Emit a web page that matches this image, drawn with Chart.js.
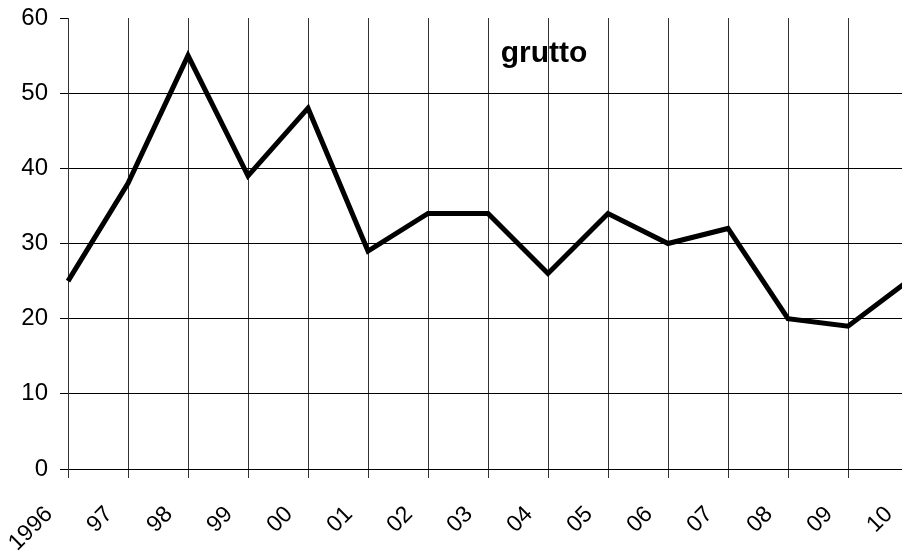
<!DOCTYPE html>
<html>
<head>
<meta charset="utf-8">
<script src="https://cdn.jsdelivr.net/npm/chart.js@4/dist/chart.umd.min.js"></script>
<style>
html,body{margin:0;padding:0;background:#fff;overflow:hidden;}
canvas{display:block;}
</style>
</head>
<body>
<canvas id="c" width="910" height="551"></canvas>
<script>
const categories = ['1996','97','98','99','00','01','02','03','04','05','06','07','08','09','10'];
const grutto = [25, 38, 55, 39, 48, 29, 34, 34, 26, 34, 30, 32, 20, 19, 25];
const yTicks = [0, 10, 20, 30, 40, 50, 60];
const titleText = 'grutto';

const FONT = '"Liberation Sans", Arial, sans-serif';

const titlePlugin = {
  id: 'innerTitle',
  afterDraw(chart) {
    const ctx = chart.ctx;
    ctx.save();
    ctx.font = 'bold 30px ' + FONT;
    ctx.fillStyle = '#000';
    ctx.textAlign = 'center';
    ctx.textBaseline = 'alphabetic';
    ctx.fillText(titleText, 544, 62);
    ctx.restore();
  }
};

new Chart(document.getElementById('c'), {
  type: 'line',
  data: {
    labels: categories,
    datasets: [{
      data: grutto,
      borderColor: '#000',
      borderWidth: 5,
      pointRadius: 0,
      tension: 0,
      fill: false,
      borderJoinStyle: 'miter'
    }]
  },
  options: {
    responsive: false,
    animation: false,
    layout: { padding: { top: 18, right: 2, left: 0, bottom: 0 } },
    plugins: { legend: { display: false }, tooltip: { enabled: false }, title: { display: false } },
    scales: {
      x: {
        type: 'category',
        offset: false,
        grid: { color: '#333', lineWidth: 1, tickLength: 9, drawTicks: true },
        border: { color: '#000', width: 1 },
        ticks: {
          autoSkip: false, maxRotation: 45, minRotation: 45,
          color: '#000', font: { family: FONT, size: 23 }, padding: 23, labelOffset: -19
        },
        afterFit(scale) { scale.height = 82; scale.paddingLeft = 0; scale.paddingRight = 0; }
      },
      y: {
        min: 0, max: 60,
        afterBuildTicks(scale) { scale.ticks = yTicks.map(v => ({ value: v })); },
        grid: {
          color: ctx => (ctx.tick && ctx.tick.value === 60) ? 'rgba(0,0,0,0)' : '#000',
          tickColor: '#000', lineWidth: 1, tickLength: 8
        },
        border: { color: '#333', width: 1 },
        ticks: { color: '#000', font: { family: FONT, size: 24 }, padding: 12 },
        afterFit(scale) { scale.width = 68; scale.paddingTop = 0; scale.paddingBottom = 0; }
      }
    }
  },
  plugins: [titlePlugin]
});
</script>
</body>
</html>
